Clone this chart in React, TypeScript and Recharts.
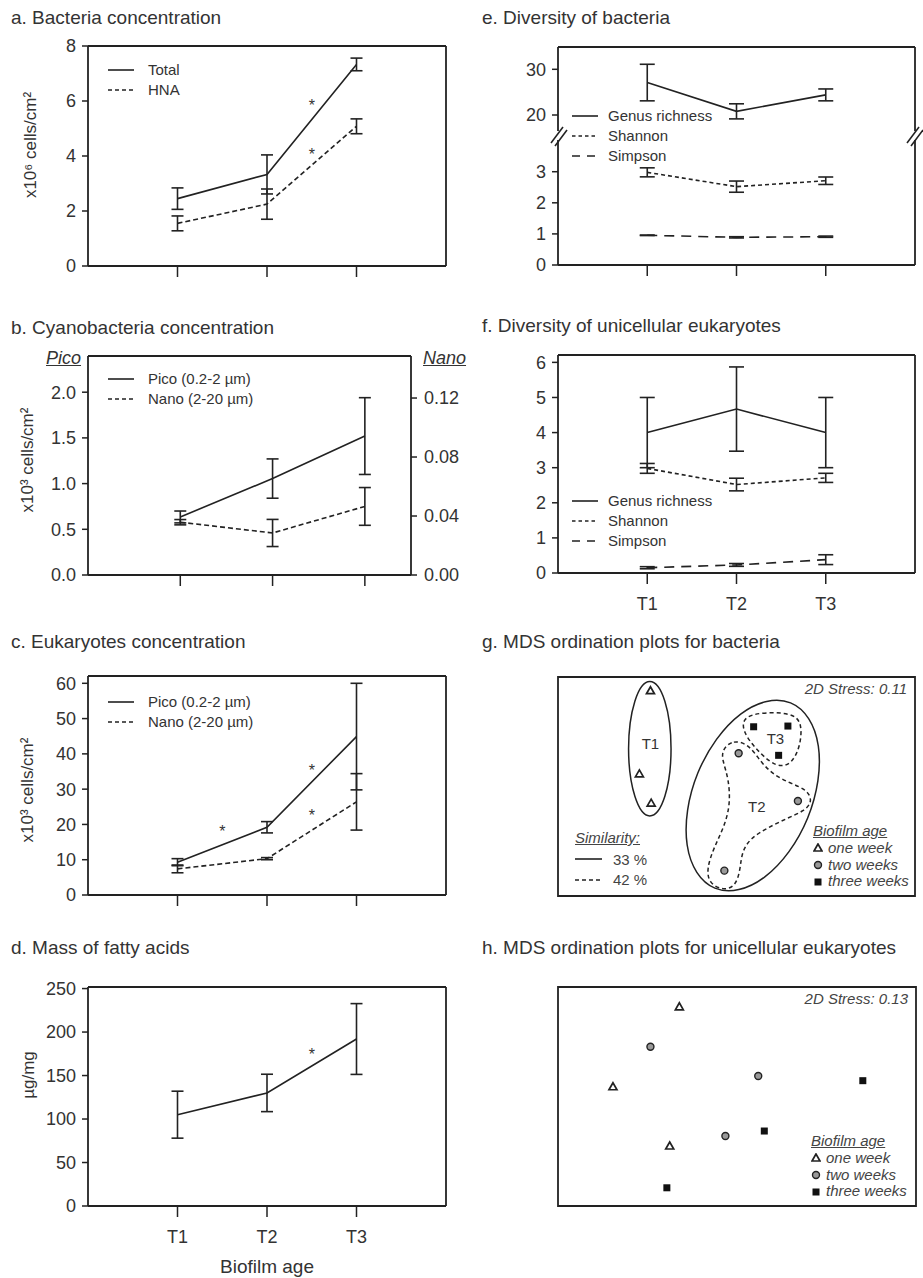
import type { ReactNode } from 'react'
import {
  ComposedChart,
  ErrorBar,
  Legend,
  Line,
  ReferenceArea,
  ReferenceDot,
  ReferenceLine,
  Scatter,
  XAxis,
  YAxis,
} from 'recharts'

const INK = '#222'
const TEXT = '#333'
const FONT = '"Liberation Sans", Arial, Helvetica, sans-serif'

const timepoints = [1, 2, 3]
const timeLabels = ['T1', 'T2', 'T3']

// a. bacteria, x10^6 cells/cm2 (mean, sd)
const totalMean = [2.45, 3.33, 7.33]
const totalSd = [0.39, 0.71, 0.23]
const hnaMean = [1.55, 2.25, 5.08]
const hnaSd = [0.27, 0.55, 0.27]
const bacteriaStars = [{ t: 2.5, v: 5.96 }, { t: 2.5, v: 4.18 }]

// b. cyanobacteria, x10^3 cells/cm2 (pico on left axis, nano on right axis)
const cyanoPicoMean = [0.635, 1.055, 1.52]
const cyanoPicoSd = [0.065, 0.215, 0.42]
const cyanoNanoMean = [0.0358, 0.0285, 0.0465]
const cyanoNanoSd = [0.0018, 0.0092, 0.0128]

// c. eukaryotes, x10^3 cells/cm2
const eukPicoMean = [9.3, 19.2, 44.9]
const eukPicoSd = [1.0, 1.6, 15.1]
const eukNanoMean = [7.4, 10.3, 26.4]
const eukNanoSd = [1.1, 0.3, 8.0]
const eukaryoteStars = [{ t: 1.5, v: 18.9 }, { t: 2.5, v: 36.4 }, { t: 2.5, v: 23.4 }]

// d. fatty acids, µg/mg
const fattyMean = [105, 130, 192]
const fattySd = [27, 21.5, 40.7]
const fattyStars = [{ t: 2.5, v: 178 }]

// e. diversity of bacteria
const bacGenusMean = [27.1, 20.8, 24.4]
const bacGenusSd = [4.0, 1.65, 1.3]
const bacShannonMean = [2.98, 2.52, 2.71]
const bacShannonSd = [0.145, 0.18, 0.12]
const bacSimpsonMean = [0.955, 0.89, 0.91]
const bacSimpsonSd = [0.008, 0.02, 0.02]

// f. diversity of unicellular eukaryotes
const eukGenusMean = [4.0, 4.67, 4.0]
const eukGenusSd = [1.0, 1.2, 1.0]
const eukShannonMean = [2.98, 2.52, 2.71]
const eukShannonSd = [0.14, 0.18, 0.13]
const eukSimpsonMean = [0.15, 0.23, 0.38]
const eukSimpsonSd = [0.03, 0.04, 0.14]

// g. MDS for bacteria (ordination units)
const bacOneWeek = [{ x: 2.59, y: 5.75 }, { x: 2.28, y: 3.42 }, { x: 2.61, y: 2.6 }]
const bacTwoWeeks = [{ x: 5.06, y: 4.0 }, { x: 6.72, y: 2.66 }, { x: 4.66, y: 0.71 }]
const bacThreeWeeks = [{ x: 5.48, y: 4.74 }, { x: 6.44, y: 4.76 }, { x: 6.18, y: 3.94 }]
const bacGroupLabels = [
  { x: 2.59, y: 4.28, text: 'T1' },
  { x: 6.09, y: 4.42, text: 'T3' },
  { x: 5.57, y: 2.5, text: 'T2' },
]
// similarity outlines (spline control points)
const bacT1Outline = [
  { x: 3.23, y: 4.12 }, { x: 3.04, y: 5.6 }, { x: 2.57, y: 6.21 }, { x: 2.11, y: 5.6 },
  { x: 1.91, y: 4.12 }, { x: 2.11, y: 2.65 }, { x: 2.57, y: 2.04 }, { x: 3.04, y: 2.65 },
]
const bacT23Outline = [
  { x: 6.63, y: 5.69 }, { x: 7.49, y: 4.35 }, { x: 7.16, y: 2.12 }, { x: 5.83, y: 0.29 },
  { x: 4.28, y: -0.06 }, { x: 3.42, y: 1.28 }, { x: 3.75, y: 3.51 }, { x: 5.08, y: 5.34 },
]
const bacT3Outline = [
  { x: 5.16, y: 4.99 }, { x: 5.67, y: 5.15 }, { x: 6.56, y: 5.13 }, { x: 6.84, y: 4.85 },
  { x: 6.79, y: 4.2 }, { x: 6.56, y: 3.73 }, { x: 6.26, y: 3.61 }, { x: 5.92, y: 3.75 },
  { x: 5.5, y: 4.17 }, { x: 5.19, y: 4.59 },
]
const bacT2Outline = [
  { x: 4.6, y: 4.1 }, { x: 4.9, y: 4.38 }, { x: 5.36, y: 4.24 }, { x: 5.67, y: 3.76 },
  { x: 6.04, y: 3.39 }, { x: 6.51, y: 3.16 }, { x: 7.01, y: 2.96 }, { x: 7.12, y: 2.63 },
  { x: 6.9, y: 2.38 }, { x: 6.42, y: 2.18 }, { x: 5.85, y: 1.9 }, { x: 5.39, y: 1.62 },
  { x: 5.15, y: 1.24 }, { x: 5.11, y: 0.78 }, { x: 4.99, y: 0.28 }, { x: 4.63, y: 0.15 },
  { x: 4.22, y: 0.36 }, { x: 4.17, y: 0.78 }, { x: 4.36, y: 1.34 }, { x: 4.64, y: 1.9 },
  { x: 4.83, y: 2.55 }, { x: 4.78, y: 3.3 }, { x: 4.6, y: 3.81 },
]

// h. MDS for unicellular eukaryotes
const eukOneWeek = [{ x: 3.4, y: 5.58 }, { x: 1.54, y: 3.34 }, { x: 3.13, y: 1.68 }]
const eukTwoWeeks = [{ x: 2.59, y: 4.46 }, { x: 5.61, y: 3.64 }, { x: 4.69, y: 1.96 }]
const eukThreeWeeks = [{ x: 8.54, y: 3.51 }, { x: 5.78, y: 2.1 }, { x: 3.05, y: 0.51 }]

const ageNames = ['one week', 'two weeks', 'three weeks']

const rowsA = timepoints.map((t, i) => ({ t, total: totalMean[i], totalSd: totalSd[i], hna: hnaMean[i], hnaSd: hnaSd[i] }))
const rowsB = timepoints.map((t, i) => ({ t, pico: cyanoPicoMean[i], picoSd: cyanoPicoSd[i], nano: cyanoNanoMean[i], nanoSd: cyanoNanoSd[i] }))
const rowsC = timepoints.map((t, i) => ({ t, pico: eukPicoMean[i], picoSd: eukPicoSd[i], nano: eukNanoMean[i], nanoSd: eukNanoSd[i] }))
const rowsD = timepoints.map((t, i) => ({ t, fa: fattyMean[i], faSd: fattySd[i] }))
const rowsE = timepoints.map((t, i) => ({
  t,
  genus: bacGenusMean[i], genusSd: bacGenusSd[i],
  shannon: bacShannonMean[i], shannonSd: bacShannonSd[i],
  simpson: bacSimpsonMean[i], simpsonSd: bacSimpsonSd[i],
}))
const rowsF = timepoints.map((t, i) => ({
  t,
  genus: eukGenusMean[i], genusSd: eukGenusSd[i],
  shannon: eukShannonMean[i], shannonSd: eukShannonSd[i],
  simpson: eukSimpsonMean[i], simpsonSd: eukSimpsonSd[i],
}))

type SeriesDef = { key: string; sd: string; name: string; dash?: string; legendDash?: string; axis?: 'left' | 'right' }
type Box = { x0: number; y0: number; x1: number; y1: number }
type Star = { t: number; v: number }

const SHORT_DASH = '5 3'
const LONG_DASH = '10 7'

const sizeSeries: SeriesDef[] = [
  { key: 'pico', sd: 'picoSd', name: 'Pico (0.2-2 µm)' },
  { key: 'nano', sd: 'nanoSd', name: 'Nano (2-20 µm)', dash: SHORT_DASH, legendDash: '4 3' },
]
const diversitySeries: SeriesDef[] = [
  { key: 'genus', sd: 'genusSd', name: 'Genus richness' },
  { key: 'shannon', sd: 'shannonSd', name: 'Shannon', dash: '4 3', legendDash: '3.5 3' },
  { key: 'simpson', sd: 'simpsonSd', name: 'Simpson', dash: LONG_DASH, legendDash: '8 7' },
]

function LineLegend({ items, gap }: { items: SeriesDef[]; gap: number }) {
  return (
    <div style={{ fontSize: 15, color: TEXT, lineHeight: '20px', fontFamily: FONT }}>
      {items.map((it) => (
        <div key={it.name} style={{ display: 'flex', alignItems: 'center', height: 20, whiteSpace: 'nowrap' }}>
          <svg width={26} height={4} style={{ marginRight: gap, flex: 'none' }}>
            <line x1={0} y1={2} x2={26} y2={2} stroke={INK} strokeWidth={1.6} strokeDasharray={it.legendDash ?? it.dash} />
          </svg>
          {it.name}
        </div>
      ))}
    </div>
  )
}

const starMark = (props: any) => (
  <text x={props.cx} y={props.cy + 9} textAnchor="middle" fontSize={16} fill={TEXT}>
    *
  </text>
)

type TrendProps = {
  plot: Box
  left: number
  width: number
  rows: Record<string, number>[]
  series: SeriesDef[]
  yDomain: [number, number]
  yTicks: number[]
  yFormat?: (v: number) => string
  right?: { domain: [number, number]; ticks: number[]; width: number }
  xDomain?: [number, number]
  xLabels?: boolean
  xTitle?: string
  yTitle?: { text: string; x: number; y: number }
  stars?: Star[]
  legend?: { items: SeriesDef[]; x: number; y: number; gap: number }
  cap?: number
  topEdge?: boolean
  bottomAxis?: boolean
}

function TrendChart(p: TrendProps) {
  const top = p.plot.y0 - 20
  const yw = 60
  const rw = p.right ? p.right.width : 0
  const bottomAxis = p.bottomAxis !== false
  const xh = !bottomAxis ? 0 : p.xTitle ? 72 : p.xLabels ? 42 : 16
  const mb = p.xTitle ? 0 : 4
  const height = p.plot.y1 - top + xh + mb
  const margin = {
    top: 20,
    right: p.left + p.width - p.plot.x1 - rw,
    bottom: mb,
    left: p.plot.x0 - p.left - yw,
  }
  const xDomain = p.xDomain ?? [0, 4]
  const axisLine = { stroke: INK, strokeWidth: 1.8 }
  const tickLine = { stroke: INK, strokeWidth: 1.5 }
  const tickFont = { fontSize: 18, fill: TEXT }
  const cap = p.cap ?? 6

  const yTitle = p.yTitle
  const yLabel = yTitle
    ? () => {
        const x = yTitle.x - p.left
        const y = yTitle.y - top
        return (
          <text x={x} y={y} transform={`rotate(-90 ${x} ${y})`} textAnchor="middle" dominantBaseline="central" fontSize={17} fill={TEXT}>
            {yTitle.text}
          </text>
        )
      }
    : undefined
  const xTitle = p.xTitle
  const xLabel = xTitle
    ? () => (
        <text x={(p.plot.x0 + p.plot.x1) / 2 - p.left} y={p.plot.y1 - top + xh - 5} textAnchor="middle" fontSize={19} fill={TEXT}>
          {xTitle}
        </text>
      )
    : undefined

  return (
    <div style={{ position: 'absolute', left: p.left, top }}>
      <ComposedChart width={p.width} height={height} data={p.rows} margin={margin}>
        <XAxis
          xAxisId="main"
          type="number"
          dataKey="t"
          domain={xDomain}
          ticks={timepoints}
          allowDataOverflow
          hide={!bottomAxis}
          height={xh}
          axisLine={axisLine}
          tickLine={tickLine}
          tickSize={11}
          tickMargin={13}
          tick={tickFont}
          tickFormatter={(v: number) => (p.xLabels ? timeLabels[timepoints.indexOf(v)] ?? '' : '')}
          label={xLabel}
        />
        <YAxis
          yAxisId="left"
          type="number"
          domain={p.yDomain}
          ticks={p.yTicks}
          allowDataOverflow
          width={yw}
          axisLine={axisLine}
          tickLine={tickLine}
          tickSize={6}
          tickMargin={6}
          tick={tickFont}
          tickFormatter={p.yFormat ?? ((v: number) => String(v))}
          label={yLabel}
        />
        {p.right ? (
          <YAxis
            yAxisId="right"
            orientation="right"
            type="number"
            domain={p.right.domain}
            ticks={p.right.ticks}
            allowDataOverflow
            width={p.right.width}
            axisLine={axisLine}
            tickLine={tickLine}
            tickSize={6}
            tickMargin={7}
            tick={tickFont}
            tickFormatter={(v: number) => v.toFixed(2)}
          />
        ) : null}
        {p.topEdge !== false ? (
          <ReferenceLine xAxisId="main" yAxisId="left" y={p.yDomain[1]} stroke={INK} strokeWidth={1.8} ifOverflow="visible" />
        ) : null}
        {p.right ? null : (
          <ReferenceLine xAxisId="main" yAxisId="left" x={xDomain[1]} stroke={INK} strokeWidth={1.8} ifOverflow="visible" />
        )}
        {p.series.map((s) => (
          <Line
            key={s.key}
            xAxisId="main"
            yAxisId={s.axis ?? 'left'}
            dataKey={s.key}
            name={s.name}
            type="linear"
            stroke={INK}
            strokeWidth={1.6}
            strokeDasharray={s.dash}
            dot={false}
            activeDot={false}
            isAnimationActive={false}
          >
            <ErrorBar dataKey={s.sd} direction="y" width={cap} stroke={INK} strokeWidth={1.6} />
          </Line>
        ))}
        {(p.stars ?? []).map((s, i) => (
          <ReferenceDot key={i} xAxisId="main" yAxisId="left" x={s.t} y={s.v} r={0} shape={starMark} ifOverflow="visible" />
        ))}
        {p.legend ? (
          <Legend
            layout="vertical"
            align="center"
            verticalAlign="middle"
            content={() => <LineLegend items={p.legend!.items} gap={p.legend!.gap} />}
            wrapperStyle={{ left: p.legend.x - p.left, top: p.legend.y - top, width: 'auto', height: 'auto' }}
          />
        ) : null}
      </ComposedChart>
    </div>
  )
}

const triangleMark = (p: any) => (
  <polygon
    points={`${p.cx},${p.cy - 4} ${p.cx - 4},${p.cy + 3} ${p.cx + 4},${p.cy + 3}`}
    fill="#fff"
    stroke={INK}
    strokeWidth={1.7}
  />
)
const circleMark = (p: any) => <circle cx={p.cx} cy={p.cy} r={3.5} fill="#999" stroke={INK} strokeWidth={1.4} />
const squareMark = (p: any) => <rect x={p.cx - 3.5} y={p.cy - 3.5} width={7} height={7} fill="#111" />
const ageMarks = [triangleMark, circleMark, squareMark]

type Pt = { x: number; y: number }

function MdsChart(props: {
  plot: Box
  xMax: number
  yMax: number
  groups: Pt[][]
  outlines?: { pts: Pt[]; dash?: string }[]
  labels?: { x: number; y: number; text: string }[]
}) {
  const { plot, xMax, yMax } = props
  return (
    <div style={{ position: 'absolute', left: plot.x0 - 2, top: plot.y0 - 2 }}>
      <ComposedChart width={plot.x1 - plot.x0 + 4} height={plot.y1 - plot.y0 + 4} margin={{ top: 2, right: 2, bottom: 2, left: 2 }}>
        <XAxis type="number" dataKey="x" domain={[0, xMax]} allowDataOverflow hide />
        <YAxis type="number" dataKey="y" domain={[0, yMax]} allowDataOverflow hide />
        <ReferenceArea x1={0} x2={xMax} y1={0} y2={yMax} fill="none" fillOpacity={0} stroke={INK} strokeWidth={1.8} ifOverflow="visible" />
        {(props.outlines ?? []).map((o, i) => (
          <Line
            key={i}
            data={o.pts}
            dataKey="y"
            type="basisClosed"
            stroke={INK}
            strokeWidth={1.5}
            strokeDasharray={o.dash}
            dot={false}
            activeDot={false}
            isAnimationActive={false}
          />
        ))}
        {props.groups.map((g, i) => (
          <Scatter key={i} data={g} dataKey="y" shape={ageMarks[i]} isAnimationActive={false} />
        ))}
        {(props.labels ?? []).map((l) => (
          <ReferenceDot
            key={l.text}
            x={l.x}
            y={l.y}
            r={0}
            ifOverflow="visible"
            shape={(sp: any) => (
              <text x={sp.cx} y={sp.cy} textAnchor="middle" dominantBaseline="central" fontSize={15} fill={TEXT}>
                {l.text}
              </text>
            )}
          />
        ))}
      </ComposedChart>
    </div>
  )
}

function Title({ x, y, children }: { x: number; y: number; children: ReactNode }) {
  return (
    <div style={{ position: 'absolute', left: x, top: y - 11, fontSize: 19, lineHeight: '22px', whiteSpace: 'nowrap', color: TEXT }}>
      {children}
    </div>
  )
}

function AgeLegend({ x, y }: { x: number; y: number }) {
  return (
    <div style={{ position: 'absolute', left: x, top: y, fontSize: 15, fontStyle: 'italic', color: '#444', whiteSpace: 'nowrap' }}>
      <div style={{ textDecoration: 'underline', lineHeight: '18.6px', height: 18.6 }}>Biofilm age</div>
      {ageNames.map((name, i) => {
        const Mark = ageMarks[i]
        return (
          <div key={name} style={{ display: 'flex', alignItems: 'center', height: 16.6, lineHeight: '16.6px' }}>
            <svg width={10} height={10} style={{ marginRight: 5, flex: 'none' }}>
              {Mark({ cx: 5, cy: 5 })}
            </svg>
            {name}
          </div>
        )
      })}
    </div>
  )
}

function BreakMark({ x, y }: { x: number; y: number }) {
  return (
    <svg width={20} height={24} style={{ position: 'absolute', left: x - 10, top: y - 12 }}>
      <line x1={2} y1={19} x2={14} y2={3} stroke={INK} strokeWidth={1.6} />
      <line x1={6} y1={22} x2={18} y2={6} stroke={INK} strokeWidth={1.6} />
    </svg>
  )
}

export default function App() {
  const italic = { position: 'absolute' as const, fontSize: 15, fontStyle: 'italic', color: '#444', whiteSpace: 'nowrap' as const }
  return (
    <div
      style={{
        position: 'absolute',
        left: 0,
        top: 0,
        width: 923,
        height: 1278,
        background: '#fff',
        fontFamily: FONT,
        color: TEXT,
        overflow: 'hidden',
      }}
    >
      <Title x={11} y={18}>a. Bacteria concentration</Title>
      <TrendChart
        plot={{ x0: 88, y0: 46, x1: 446, y1: 266 }}
        left={0}
        width={460}
        rows={rowsA}
        series={[
          { key: 'total', sd: 'totalSd', name: 'Total' },
          { key: 'hna', sd: 'hnaSd', name: 'HNA', dash: SHORT_DASH, legendDash: '4 3' },
        ]}
        yDomain={[0, 8]}
        yTicks={[0, 2, 4, 6, 8]}
        yTitle={{ text: 'x10⁶ cells/cm²', x: 30, y: 145 }}
        stars={bacteriaStars}
        legend={{
          items: [
            { key: 'total', sd: '', name: 'Total' },
            { key: 'hna', sd: '', name: 'HNA', dash: '4 3' },
          ],
          x: 108,
          y: 60,
          gap: 14,
        }}
      />

      <Title x={11} y={328}>b. Cyanobacteria concentration</Title>
      <div style={{ position: 'absolute', left: 46, top: 347, fontSize: 18, fontStyle: 'italic', textDecoration: 'underline', lineHeight: '22px' }}>Pico</div>
      <div style={{ position: 'absolute', left: 423, top: 347, fontSize: 18, fontStyle: 'italic', textDecoration: 'underline', lineHeight: '22px' }}>Nano</div>
      <TrendChart
        plot={{ x0: 88, y0: 356, x1: 411, y1: 575 }}
        left={0}
        width={470}
        rows={rowsB}
        series={[sizeSeries[0], { ...sizeSeries[1], axis: 'right' }]}
        xDomain={[0, 3.5]}
        yDomain={[0, 2.396]}
        yTicks={[0, 0.5, 1, 1.5, 2]}
        yFormat={(v) => v.toFixed(1)}
        right={{ domain: [0, 0.1485], ticks: [0, 0.04, 0.08, 0.12], width: 59 }}
        yTitle={{ text: 'x10³ cells/cm²', x: 27, y: 460 }}
        legend={{ items: sizeSeries, x: 108, y: 369, gap: 14 }}
      />

      <Title x={11} y={642}>c. Eukaryotes concentration</Title>
      <TrendChart
        plot={{ x0: 88, y0: 676, x1: 446, y1: 895 }}
        left={0}
        width={460}
        rows={rowsC}
        series={sizeSeries}
        yDomain={[0, 62.07]}
        yTicks={[0, 10, 20, 30, 40, 50, 60]}
        yTitle={{ text: 'x10³ cells/cm²', x: 27, y: 790 }}
        stars={eukaryoteStars}
        legend={{ items: sizeSeries, x: 108, y: 692, gap: 14 }}
      />

      <Title x={11} y={948}>d. Mass of fatty acids</Title>
      <TrendChart
        plot={{ x0: 88, y0: 987, x1: 446, y1: 1206 }}
        left={0}
        width={460}
        rows={rowsD}
        series={[{ key: 'fa', sd: 'faSd', name: 'Fatty acids' }]}
        yDomain={[0, 251.8]}
        yTicks={[0, 50, 100, 150, 200, 250]}
        yTitle={{ text: 'µg/mg', x: 28, y: 1075 }}
        stars={fattyStars}
        xLabels
        xTitle="Biofilm age"
      />

      <Title x={482} y={18}>e. Diversity of bacteria</Title>
      <TrendChart
        plot={{ x0: 558, y0: 47, x1: 915, y1: 131 }}
        left={460}
        width={463}
        rows={rowsE}
        series={[diversitySeries[0]]}
        yDomain={[16.5, 34.88]}
        yTicks={[20, 30]}
        bottomAxis={false}
        cap={7.5}
        legend={{ items: diversitySeries, x: 572, y: 106, gap: 10 }}
      />
      <TrendChart
        plot={{ x0: 558, y0: 140, x1: 915, y1: 265 }}
        left={460}
        width={463}
        rows={rowsE}
        series={[diversitySeries[1], diversitySeries[2]]}
        yDomain={[0, 4.02]}
        yTicks={[0, 1, 2, 3]}
        topEdge={false}
        cap={7.5}
      />
      <BreakMark x={559} y={136} />
      <BreakMark x={915} y={136} />

      <Title x={482} y={326}>f. Diversity of unicellular eukaryotes</Title>
      <TrendChart
        plot={{ x0: 558, y0: 355, x1: 915, y1: 573 }}
        left={460}
        width={463}
        rows={rowsF}
        series={diversitySeries}
        yDomain={[0, 6.21]}
        yTicks={[0, 1, 2, 3, 4, 5, 6]}
        xLabels
        cap={7.5}
        legend={{ items: diversitySeries, x: 572, y: 491, gap: 10 }}
      />

      <Title x={482} y={642}>g. MDS ordination plots for bacteria</Title>
      <MdsChart
        plot={{ x0: 558, y0: 677, x1: 915, y1: 896 }}
        xMax={10}
        yMax={6.134}
        groups={[bacOneWeek, bacTwoWeeks, bacThreeWeeks]}
        outlines={[
          { pts: bacT1Outline },
          { pts: bacT23Outline },
          { pts: bacT3Outline, dash: '4 3' },
          { pts: bacT2Outline, dash: '4 3' },
        ]}
        labels={bacGroupLabels}
      />
      <div style={{ ...italic, right: 16, top: 680 }}>2D Stress: 0.11</div>
      <div style={{ ...italic, left: 575, top: 828 }}>
        <div style={{ textDecoration: 'underline', height: 20.8, lineHeight: '20.8px' }}>Similarity:</div>
        {[{ dash: undefined, text: '33 %' }, { dash: '4 3', text: '42 %' }].map((r) => (
          <div key={r.text} style={{ display: 'flex', alignItems: 'center', height: 20.8, fontStyle: 'normal' }}>
            <svg width={27} height={4} style={{ marginRight: 11, flex: 'none' }}>
              <line x1={0} y1={2} x2={27} y2={2} stroke={INK} strokeWidth={1.6} strokeDasharray={r.dash} />
            </svg>
            {r.text}
          </div>
        ))}
      </div>
      <AgeLegend x={813} y={821.5} />

      <Title x={482} y={948}>h. MDS ordination plots for unicellular eukaryotes</Title>
      <MdsChart
        plot={{ x0: 558, y0: 987, x1: 916, y1: 1206 }}
        xMax={10.03}
        yMax={6.134}
        groups={[eukOneWeek, eukTwoWeeks, eukThreeWeeks]}
      />
      <div style={{ ...italic, right: 15, top: 990 }}>2D Stress: 0.13</div>
      <AgeLegend x={811} y={1131.5} />
    </div>
  )
}
